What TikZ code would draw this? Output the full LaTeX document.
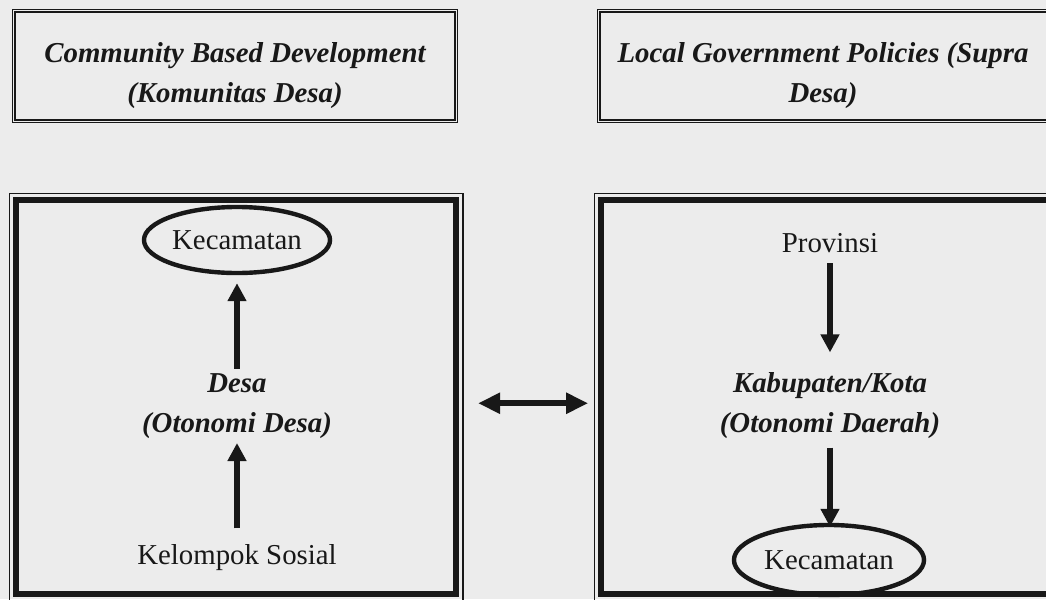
\documentclass[tikz,border=0pt]{standalone}
\usepackage{fontspec}
\setmainfont{Liberation Serif}
\usetikzlibrary{shapes.geometric,arrows.meta,calc}
\definecolor{paper}{RGB}{236,236,236}
\definecolor{ink}{RGB}{24,24,24}
\begin{document}
\begin{tikzpicture}[x=0.025cm,y=-0.025cm,
  txt/.style={font=\fontsize{20.5}{28.5}\selectfont, text=ink, align=center},
  bi/.style={txt, font=\fontsize{20.5}{28.5}\selectfont\bfseries\itshape},
  topbox/.style={draw=ink, double=paper, line width=0.045cm, double distance=0.025cm, minimum height=2.75cm, inner sep=0pt},
  bigbox/.style={draw=ink, line width=0.15cm, minimum height=9.84cm},
  frame/.style={draw=ink, line width=0.035cm},
  oval/.style={ellipse, draw=ink, line width=0.11cm, inner sep=0pt, txt},
  arr/.style={draw=ink, line width=0.13cm, -{Triangle[width=0.45cm,length=0.45cm]}},
  darr/.style={draw=ink, line width=0.15cm, {Triangle[width=0.5cm,length=0.55cm]}-{Triangle[width=0.5cm,length=0.55cm]}}
]
\fill[paper] (0,0) rectangle (1046,599);
\useasboundingbox (0,0) rectangle (1046,599);

% top boxes
\node[topbox, minimum width=11.05cm] (tl) at (235,66) {};
\node[bi] (tltext) at (235,76) {Community Based Development\\(Komunitas Desa)};
\node[topbox, minimum width=11.25cm] (tr) at (824,66) {};
\node[bi] (trtext) at (823,76) {Local Government Policies (Supra\\Desa)};

% bottom boxes
\node[bigbox, minimum width=10.99cm] (lbox) at (236.25,397.25) {};
\node[bigbox, minimum width=11.46cm] (rbox) at (830.75,397.25) {};
\draw[frame] ([shift={(-4,-4)}]lbox.north west) rectangle ([shift={(4,4)}]lbox.south east);
\draw[frame] ([shift={(-4,-4)}]rbox.north west) rectangle ([shift={(4,4)}]rbox.south east);

% left content
\node[oval, minimum width=4.65cm, minimum height=1.65cm] (k1) at (237,240) {Kecamatan};
\node[bi, inner sep=3pt] (desa) at (237,406) {Desa\\(Otonomi Desa)};
\node[txt, inner sep=3pt] (kel) at (237,558) {Kelompok Sosial};
\draw[arr, shorten >=0.2cm] (desa.north) -- (k1.south);
\draw[arr, shorten <=0.3cm] (kel.north) -- (desa.south);

% right content
\node[txt, inner sep=3pt] (prov) at (830,243) {Provinsi};
\node[bi, inner sep=3pt] (kab) at (830,406) {Kabupaten/Kota\\(Otonomi Daerah)};
\node[oval, minimum width=4.75cm, minimum height=1.75cm] (k2) at (829,560) {Kecamatan};
\draw[arr, shorten <=0.15cm, shorten >=0.4cm] (prov.south) -- (kab.north);
\draw[arr, shorten <=0.1cm, shorten >=-0.1cm] (kab.south) -- (kab.south |- k2.north);

% link between the two boxes
\draw[darr, shorten <=0.475cm, shorten >=0.26cm] ($(lbox.east)+(0,6)$) -- ($(rbox.west)+(0,6)$);
\end{tikzpicture}
\end{document}
